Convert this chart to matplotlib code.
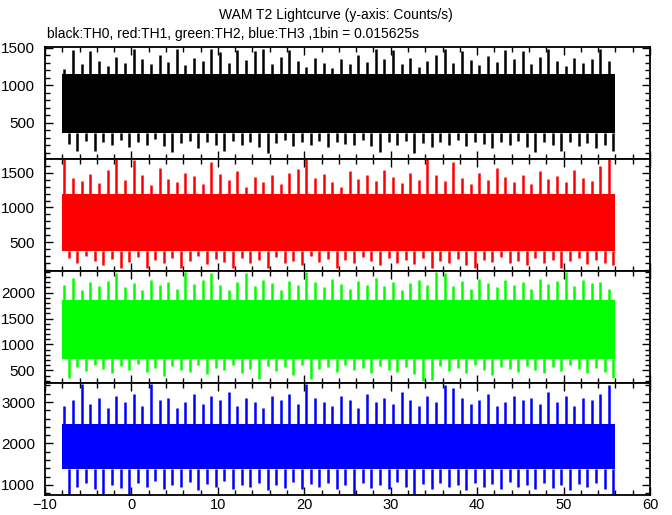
import numpy as np
import matplotlib
matplotlib.use("Agg")
from matplotlib import pyplot as plt
from matplotlib.ticker import MultipleLocator

plt.rcParams['font.family'] = ['Liberation Sans', 'DejaVu Sans']

# time bins (s), one entry per second
sec = np.arange(-8, 56)

# per-second peak / dip (counts/s)
th0_top = [1220, 1470, 1290, 1460, 1330, 1260, 1380, 1300, 1490, 1350, 1280, 1400, 1310, 1480, 1270, 1360,
           1320, 1490, 1450, 1300, 1470, 1340, 1460, 1480, 1290, 1380, 1470, 1330, 1250, 1360, 1300, 1230,
           1350, 1280, 1400, 1310, 1480, 1350, 1470, 1290, 1360, 1240, 1330, 1400, 1490, 1300, 1460, 1340,
           1270, 1390, 1310, 1470, 1350, 1460, 1290, 1380, 1480, 1330, 1260, 1370, 1300, 1350, 1490, 1320]
th0_bot = [220, 130, 260, 120, 240, 200, 270, 180, 250, 210, 280, 190, 110, 230, 260, 170,
           240, 210, 120, 260, 200, 250, 180, 100, 230, 270, 190, 240, 210, 260, 180, 250,
           220, 200, 270, 190, 110, 240, 200, 260, 105, 230, 180, 250, 210, 270, 190, 240,
           220, 170, 250, 200, 260, 180, 110, 240, 210, 120, 250, 190, 230, 170, 200, 130]
th1_top = [1690, 1420, 1380, 1480, 1350, 1540, 1690, 1400, 1680, 1460, 1320, 1560, 1410, 1370, 1500, 1450,
           1340, 1650, 1480, 1390, 1530, 1300, 1440, 1370, 1460, 1340, 1500, 1550, 1690, 1420, 1480, 1360,
           1300, 1520, 1410, 1470, 1380, 1540, 1430, 1350, 1490, 1400, 1690, 1460, 1380, 1650, 1420, 1340,
           1500, 1390, 1560, 1430, 1370, 1470, 1330, 1520, 1410, 1450, 1360, 1540, 1420, 1380, 1600, 1690]
th1_bot = [280, 200, 300, 230, 170, 260, 140, 220, 290, 130, 250, 200, 270, 130, 240, 300,
           190, 260, 220, 140, 280, 200, 250, 130, 290, 210, 240, 180, 300, 220, 260, 130,
           250, 200, 290, 230, 170, 270, 210, 250, 190, 280, 130, 240, 200, 260, 180, 130,
           250, 220, 290, 200, 240, 170, 270, 210, 250, 130, 230, 280, 190, 250, 210, 180]
th2_top = [2150, 2280, 2050, 2200, 2120, 2230, 2380, 2100, 2180, 2060, 2250, 2140, 2210, 2080, 2390, 2170,
           2240, 2380, 2150, 2060, 2200, 2370, 2120, 2250, 2180, 2050, 2230, 2140, 2390, 2200, 2100, 2260,
           2170, 2080, 2230, 2150, 2280, 2120, 2210, 2060, 2180, 2250, 2140, 2390, 2370, 2130, 2220, 2070,
           2260, 2180, 2110, 2240, 2150, 2200, 2080, 2270, 2160, 2230, 2390, 2120, 2250, 2180, 2200, 2080]
th2_bot = [360, 560, 480, 600, 520, 440, 580, 500, 620, 460, 540, 400, 590, 510, 470, 600,
           430, 550, 500, 610, 450, 530, 340, 580, 490, 560, 420, 600, 330, 520, 570, 460,
           600, 500, 540, 440, 590, 510, 470, 560, 430, 300, 320, 580, 490, 540, 450, 600,
           500, 420, 570, 530, 460, 590, 510, 440, 560, 480, 600, 520, 450, 540, 470, 360]
th3_top = [2900, 3050, 3440, 2950, 3100, 2850, 3150, 3000, 3200, 2900, 3440, 3050, 3100, 2850, 3000, 3200,
           2950, 3150, 3050, 3250, 2900, 3100, 3000, 2850, 3150, 3050, 3200, 2950, 3440, 3100, 3000, 2900,
           3150, 3050, 2850, 3200, 3000, 3100, 2950, 3250, 3050, 2900, 3150, 3000, 3420, 3350, 3100, 2950,
           3050, 3200, 2900, 3000, 3150, 3050, 3100, 2950, 3250, 3000, 3150, 2900, 3100, 3050, 3200, 3420]
th3_bot = [780, 950, 1050, 900, 780, 1000, 920, 770, 1050, 960, 1100, 900, 1000, 950, 1080, 880,
           1020, 950, 1100, 900, 1000, 960, 1050, 880, 1000, 930, 1080, 900, 1020, 960, 1050, 890,
           1000, 780, 1050, 930, 1000, 900, 1080, 950, 780, 1020, 900, 1050, 960, 1000, 880, 1050,
           950, 1020, 900, 1080, 960, 1000, 900, 1050, 930, 1000, 880, 1020, 950, 1050, 900, 780]

# dense band of each channel (counts/s)
core_lo = [360, 380, 720, 1380]
core_hi = [1150, 1195, 1850, 2480]

tops = [th0_top, th1_top, th2_top, th3_top]
bots = [th0_bot, th1_bot, th2_bot, th3_bot]
colors = ['black', '#ff0000', '#00ff00', '#0000ff']
ylims = [(20, 1510), (90, 1695), (256, 2418), (755, 3460)]
ymajor = [500, 500, 500, 1000]
yminor = [100, 100, 100, 200]

fig = plt.figure(figsize=(6.72, 5.15), dpi=100)
for k in range(4):
    ax = fig.add_axes([45 / 672, (20 + (3 - k) * 112) / 515, 605 / 672, 112 / 515])
    ax.fill_between([sec[0], sec[-1] + 1], core_lo[k], core_hi[k], color=colors[k], lw=0)
    # spikes above and below the dense band
    ax.vlines(sec + 0.25, core_hi[k], tops[k], color=colors[k], lw=1.8)
    ax.vlines(sec + 0.75, bots[k], core_lo[k], color=colors[k], lw=1.8)
    ax.set_xlim(-10, 60)
    ax.set_ylim(*ylims[k])
    ax.xaxis.set_major_locator(MultipleLocator(10))
    ax.xaxis.set_minor_locator(MultipleLocator(2))
    ax.yaxis.set_major_locator(MultipleLocator(ymajor[k]))
    ax.yaxis.set_minor_locator(MultipleLocator(yminor[k]))
    ax.tick_params(which='both', direction='in', top=True, right=True, width=1, labelsize=11)
    ax.tick_params(which='major', length=6, pad=7)
    ax.tick_params(which='minor', length=3.5)
    ax.tick_params(axis='x', pad=2, labelsize=10.5)
    for s in ax.spines.values():
        s.set_linewidth(1.3)
    if k < 3:
        ax.tick_params(axis='x', labelbottom=False)

fig.text(0.5, 1 - 15 / 515, "WAM T2 Lightcurve (y-axis: Counts/s)", ha='center', va='center', fontsize=10)
fig.text(47 / 672, 1 - 34 / 515, "black:TH0, red:TH1, green:TH2, blue:TH3 ,1bin = 0.015625s",
         ha='left', va='center', fontsize=10)

fig.savefig('out.png', dpi=100)
